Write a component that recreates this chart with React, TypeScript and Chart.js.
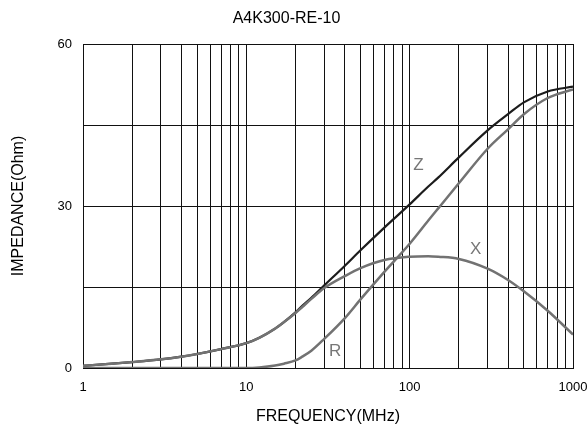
import React, { useEffect, useRef } from "react";
import { Chart, registerables } from "chart.js";

Chart.register(...registerables);

const chartTitle = "A4K300-RE-10";
const xAxisTitle = "FREQUENCY(MHz)";
const yAxisTitle = "IMPEDANCE(Ohm)";

const frequencies = [1, 1.5, 2, 3, 4, 5, 7, 10, 12, 15, 17, 20, 22, 25, 30, 40, 50, 70, 100, 130, 150, 200, 300, 400, 500, 700, 1000];
const zValues = [0.4, 0.8, 1.1, 1.6, 2.1, 2.6, 3.5, 4.6, 5.6, 7.3, 8.5, 10.3, 11.5, 13.0, 15.3, 18.9, 21.8, 26.0, 30.3, 33.6, 35.3, 39.0, 44.0, 47.0, 49.2, 51.2, 52.1];
const rValues = [0, 0, 0, 0, 0, 0, 0, 0, 0.1, 0.45, 0.8, 1.4, 2.1, 3.2, 5.4, 9.2, 12.7, 17.8, 23.0, 27.3, 29.6, 34.2, 40.6, 44.2, 47.0, 50.0, 51.6];
const xValues = [0.4, 0.8, 1.1, 1.6, 2.1, 2.6, 3.5, 4.6, 5.6, 7.3, 8.5, 10.2, 11.3, 12.8, 14.8, 17.0, 18.5, 20.0, 20.6, 20.7, 20.6, 20.2, 18.4, 16.3, 14.2, 10.6, 6.2];

const xTickValues = [1, 2, 3, 4, 5, 6, 7, 8, 9, 10, 20, 30, 40, 50, 60, 70, 80, 90, 100, 200, 300, 400, 500, 600, 700, 800, 900, 1000];
const xTickLabels = ["1", "10", "100", "1000"];
const yTickLabels = ["0", "30", "60"];

const curveNames = ["Z", "X", "R"];
const curveLabelFreq = [113, 254, 35];
const curveLabelValue = [37.6, 22, 3];

export default function App() {
  const canvasRef = useRef<HTMLCanvasElement | null>(null);

  useEffect(() => {
    document.body.style.margin = "0";
    const canvas = canvasRef.current;
    if (!canvas) return;
    const font = "'Liberation Sans', Arial, sans-serif";

    const labelPlugin = {
      id: "curveLabels",
      afterDatasetsDraw(chart: any) {
        const { ctx, scales } = chart;
        ctx.save();
        ctx.font = `17px ${font}`;
        ctx.fillStyle = "#777";
        ctx.textAlign = "center";
        ctx.textBaseline = "middle";
        curveNames.forEach((name, i) => {
          const px = scales.x.getPixelForValue(curveLabelFreq[i]);
          const py = scales.y.getPixelForValue(curveLabelValue[i]);
          ctx.fillText(name, px, py);
        });
        ctx.restore();
      },
    };

    const toPoints = (vals: number[]) => frequencies.map((f, i) => ({ x: f, y: vals[i] }));

    const chart = new Chart(canvas, {
      type: "line",
      data: {
        datasets: [
          {
            label: "X",
            data: toPoints(xValues),
            borderColor: "#727272",
            borderWidth: 2.5,
            pointRadius: 0,
            cubicInterpolationMode: "monotone",
            order: 0,
          },
          {
            label: "R",
            data: toPoints(rValues),
            borderColor: "#727272",
            borderWidth: 2.5,
            pointRadius: 0,
            cubicInterpolationMode: "monotone",
            order: 1,
          },
          {
            label: "Z",
            data: toPoints(zValues),
            borderColor: "#1c1c1c",
            borderWidth: 2.2,
            pointRadius: 0,
            cubicInterpolationMode: "monotone",
            order: 2,
          },
        ],
      },
      options: {
        responsive: false,
        animation: false,
        devicePixelRatio: 1,
        layout: { padding: { left: 0, right: 14, top: 0, bottom: 0 } },
        plugins: {
          legend: { display: false },
          tooltip: { enabled: false },
          title: {
            display: true,
            text: chartTitle,
            color: "#000",
            font: { family: font, size: 16, weight: "normal" },
            padding: { top: 8.7, bottom: 16.1 },
          },
        },
        scales: {
          x: {
            type: "logarithmic",
            min: 1,
            max: 1000,
            position: "bottom",
            afterBuildTicks: (scale: any) => {
              scale.ticks = xTickValues.map((v) => ({ value: v }));
            },
            afterFit: (scale: any) => {
              scale.height = 65;
              scale.paddingLeft = 0;
              scale.paddingRight = 0;
            },
            ticks: {
              autoSkip: false,
              maxRotation: 0,
              padding: 12,
              color: "#000",
              font: { family: font, size: 13 },
              callback: (v: any) => {
                const s = String(v);
                return xTickLabels.includes(s) ? s : "";
              },
            },
            grid: { color: "#111", lineWidth: 1, drawTicks: false },
            border: { display: true, color: "#111" },
            title: {
              display: true,
              text: xAxisTitle,
              color: "#000",
              font: { family: font, size: 16 },
              padding: { top: 4, bottom: 6.7 },
            },
          },
          y: {
            type: "linear",
            min: 0,
            max: 60,
            afterFit: (scale: any) => {
              scale.width = 83;
            },
            ticks: {
              stepSize: 15,
              padding: 11,
              color: "#000",
              font: { family: font, size: 13 },
              callback: (v: any) => {
                const s = String(v);
                return yTickLabels.includes(s) ? s : "";
              },
            },
            grid: { color: "#111", lineWidth: 1, drawTicks: false },
            border: { display: true, color: "#111" },
            title: {
              display: true,
              text: yAxisTitle,
              color: "#000",
              font: { family: font, size: 16 },
              padding: { top: 9.1, bottom: 4 },
            },
          },
        },
      },
      plugins: [labelPlugin],
    } as any);

    return () => chart.destroy();
  }, []);

  return (
    <div style={{ width: 587, height: 433, background: "#fff" }}>
      <canvas ref={canvasRef} width={587} height={433} style={{ display: "block" }} />
    </div>
  );
}
